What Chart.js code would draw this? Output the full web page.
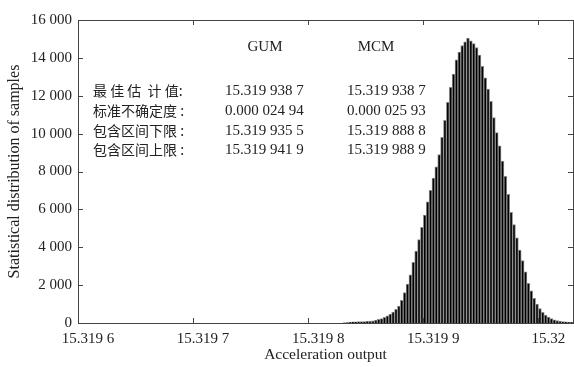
<!DOCTYPE html>
<html>
<head>
<meta charset="utf-8">
<script src="https://cdn.jsdelivr.net/npm/chart.js@4"></script>
<style>
  html, body { margin: 0; padding: 0; background: #fff; }
  #wrap { width: 574px; height: 367px; position: relative; }
</style>
</head>
<body>
<div id="wrap"><canvas id="hist"></canvas></div>
<script>
// histogram bins (left edge of first bin, bin width) and counts
const binStart = 15.31983;
const binWidth = 0.0000025;
const counts = [
  10, 20, 40, 60, 60, 70, 70, 80, 90, 100,
  120, 150, 190, 240, 300, 380, 470, 580, 720, 900,
  1200, 1600, 2050, 2550, 3200, 3800, 4400, 5050, 5700, 6400,
  7000, 7650, 8250, 8900, 9800, 10700, 11650, 12450, 13150, 13900,
  14300, 14650, 14850, 15050, 14900, 14750, 14550, 14150, 13550, 12950,
  12350, 11700, 10850, 10050, 9350, 8550, 7750, 6800, 5850, 5200,
  4500, 3850, 3300, 2700, 2100, 1700, 1300, 1000, 760, 560,
  420, 310, 230, 170, 130, 100, 80, 60, 50, 40
];

const xTickValues = [15.3196, 15.3197, 15.3198, 15.3199, 15.32];
const xTickLabels = ['15.319 6', '15.319 7', '15.319 8', '15.319 9', '15.32'];
const yTickValues = [0, 2000, 4000, 6000, 8000, 10000, 12000, 14000, 16000];
const yTickLabels = ['0', '2 000', '4 000', '6 000', '8 000', '10 000', '12 000', '14 000', '16 000'];

const methods = ['GUM', 'MCM'];
const rowNames = ['最 佳 估  计 值:', '标准不确定度 :', '包含区间下限 :', '包含区间上限 :'];
const gumValues = ['15.319 938 7', '0.000 024 94', '15.319 935 5', '15.319 941 9'];
const mcmValues = ['15.319 938 7', '0.000 025 93', '15.319 888 8', '15.319 988 9'];

const points = counts.map((c, i) => ({ x: binStart + binWidth * (i + 0.5), y: c }));

const serif = '"Liberation Serif", "Times New Roman", serif';
const axisColor = '#444';
const textColor = '#222';

// box frame with inward ticks, plus the result table
const framePlugin = {
  id: 'frame',
  afterDraw(chart) {
    const { ctx, chartArea: a, scales: { x, y } } = chart;
    ctx.save();
    ctx.strokeStyle = axisColor;
    ctx.lineWidth = 1;
    ctx.strokeRect(Math.round(a.left) + 0.5, Math.round(a.top) + 0.5,
      Math.round(a.right - a.left), Math.round(a.bottom - a.top));
    ctx.beginPath();
    xTickValues.forEach(v => {
      const px = Math.round(x.getPixelForValue(v)) + 0.5;
      ctx.moveTo(px, a.bottom); ctx.lineTo(px, a.bottom - 5);
      ctx.moveTo(px, a.top); ctx.lineTo(px, a.top + 5);
    });
    yTickValues.forEach(v => {
      const py = Math.round(y.getPixelForValue(v)) + 0.5;
      ctx.moveTo(a.left, py); ctx.lineTo(a.left + 5, py);
      ctx.moveTo(a.right, py); ctx.lineTo(a.right - 5, py);
    });
    ctx.stroke();

    ctx.fillStyle = textColor;
    ctx.textBaseline = 'middle';
    ctx.font = '15px ' + serif;
    ctx.textAlign = 'center';
    ctx.fillText(methods[0], 265, 47);
    ctx.fillText(methods[1], 376, 47);
    ctx.textAlign = 'left';
    const rowY = [91, 111, 131, 150];
    rowNames.forEach((t, i) => {
      ctx.font = '14px "Noto Sans CJK SC", sans-serif';
      ctx.fillText(t, 93, rowY[i]);
      ctx.font = '15px ' + serif;
      ctx.fillText(gumValues[i], 225, rowY[i]);
      ctx.fillText(mcmValues[i], 347, rowY[i]);
    });
    ctx.restore();
  }
};

new Chart(document.getElementById('hist'), {
  type: 'bar',
  data: {
    datasets: [{
      data: points,
      backgroundColor: '#000',
      borderColor: '#8a8a8a',
      borderWidth: 1,
      barPercentage: 1.0,
      categoryPercentage: 1.0
    }]
  },
  options: {
    responsive: true,
    maintainAspectRatio: false,
    animation: false,
    layout: { padding: { left: 0, right: 1, top: 20, bottom: 0 } },
    plugins: { legend: { display: false }, tooltip: { enabled: false } },
    scales: {
      x: {
        type: 'linear',
        offset: false,
        min: 15.3196,
        max: 15.32003,
        grid: { display: false, drawTicks: false, offset: false },
        border: { display: false },
        afterBuildTicks: s => { s.ticks = xTickValues.map(v => ({ value: v })); },
        afterFit: s => { s.height = 44; },
        ticks: {
          autoSkip: false,
          maxRotation: 0,
          padding: 7,
          labelOffset: 10,
          color: textColor,
          font: { family: serif, size: 15 },
          callback: (v, i) => xTickLabels[i]
        },
        title: {
          display: true,
          text: 'Acceleration output',
          color: textColor,
          font: { family: serif, size: 15.5 },
          padding: { top: 0, bottom: 3 }
        }
      },
      y: {
        min: 0,
        max: 16000,
        grid: { display: false, drawTicks: false },
        border: { display: false },
        afterBuildTicks: s => { s.ticks = yTickValues.map(v => ({ value: v })); },
        afterFit: s => { s.width = 78; },
        ticks: {
          autoSkip: false,
          padding: 6,
          color: textColor,
          font: { family: serif, size: 15 },
          callback: (v, i) => yTickLabels[i]
        },
        title: {
          display: true,
          text: 'Statistical distribution of samples',
          color: textColor,
          font: { family: serif, size: 16 },
          padding: { top: 5, bottom: 0 }
        }
      }
    }
  },
  plugins: [framePlugin]
});
</script>
</body>
</html>
